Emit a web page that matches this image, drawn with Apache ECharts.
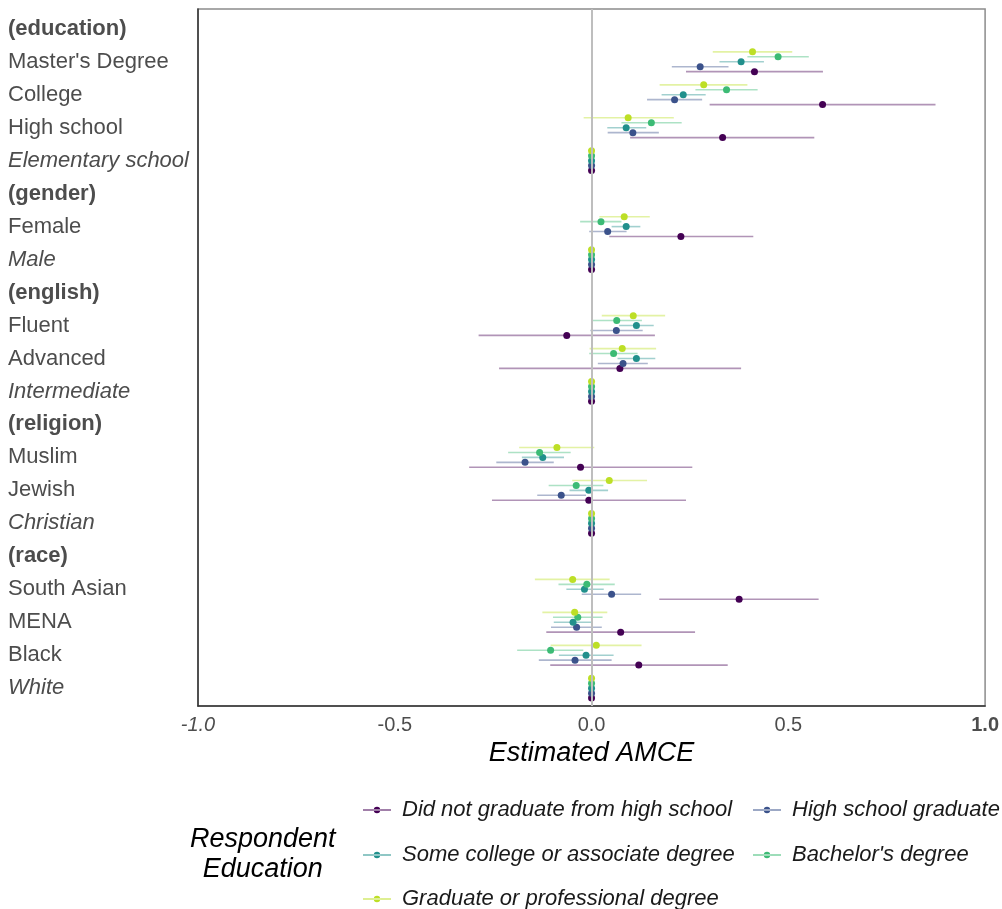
<!DOCTYPE html>
<html>
<head>
<meta charset="utf-8">
<script src="https://cdn.jsdelivr.net/npm/echarts@6/dist/echarts.min.js"></script>
<style>
  html, body { margin: 0; padding: 0; background: #ffffff; }
  #chart { width: 1002px; height: 909px; }
</style>
</head>
<body>
<div id="chart"></div>
<script>
// Attribute levels, top to bottom
const rows = ['(education)', "Master's Degree", 'College', 'High school', 'Elementary school',
  '(gender)', 'Female', 'Male',
  '(english)', 'Fluent', 'Advanced', 'Intermediate',
  '(religion)', 'Muslim', 'Jewish', 'Christian',
  '(race)', 'South Asian', 'MENA', 'Black', 'White'];
// h = attribute header, n = level, i = reference level
const rowKinds = ['h', 'n', 'n', 'n', 'i', 'h', 'n', 'i', 'h', 'n', 'n', 'i', 'h', 'n', 'n', 'i', 'h', 'n', 'n', 'n', 'i'];

const groups = ['Did not graduate from high school', 'High school graduate',
  'Some college or associate degree', "Bachelor's degree", 'Graduate or professional degree'];

// Estimated AMCE and 95% interval per respondent education group (null = header row)
const estNoHS = [null, 0.414, 0.587, 0.333, 0, null, 0.227, 0, null, -0.063, 0.072, 0, null, -0.028, -0.007, 0, null, 0.375, 0.074, 0.120, 0];
const loNoHS  = [null, 0.240, 0.300, 0.098, 0, null, 0.045, 0, null, -0.287, -0.235, 0, null, -0.311, -0.253, 0, null, 0.172, -0.115, -0.105, 0];
const hiNoHS  = [null, 0.588, 0.874, 0.566, 0, null, 0.411, 0, null, 0.161, 0.380, 0, null, 0.256, 0.240, 0, null, 0.577, 0.263, 0.346, 0];

const estHS = [null, 0.276, 0.211, 0.105, 0, null, 0.041, 0, null, 0.063, 0.080, 0, null, -0.169, -0.077, 0, null, 0.051, -0.038, -0.042, 0];
const loHS  = [null, 0.204, 0.141, 0.041, 0, null, -0.006, 0, null, -0.003, 0.016, 0, null, -0.242, -0.138, 0, null, -0.025, -0.103, -0.134, 0];
const hiHS  = [null, 0.348, 0.281, 0.171, 0, null, 0.089, 0, null, 0.130, 0.143, 0, null, -0.096, -0.014, 0, null, 0.126, 0.026, 0.051, 0];

const estSome = [null, 0.380, 0.233, 0.088, 0, null, 0.088, 0, null, 0.114, 0.114, 0, null, -0.124, -0.007, 0, null, -0.018, -0.047, -0.014, 0];
const loSome  = [null, 0.325, 0.178, 0.040, 0, null, 0.051, 0, null, 0.070, 0.066, 0, null, -0.177, -0.056, 0, null, -0.064, -0.096, -0.083, 0];
const hiSome  = [null, 0.438, 0.290, 0.139, 0, null, 0.124, 0, null, 0.158, 0.162, 0, null, -0.070, 0.042, 0, null, 0.031, 0.003, 0.056, 0];

const estBA = [null, 0.474, 0.343, 0.152, 0, null, 0.024, 0, null, 0.064, 0.056, 0, null, -0.132, -0.039, 0, null, -0.012, -0.035, -0.104, 0];
const loBA  = [null, 0.396, 0.264, 0.076, 0, null, -0.029, 0, null, -0.001, -0.006, 0, null, -0.212, -0.109, 0, null, -0.084, -0.098, -0.189, 0];
const hiBA  = [null, 0.552, 0.422, 0.229, 0, null, 0.076, 0, null, 0.128, 0.117, 0, null, -0.053, 0.030, 0, null, 0.059, 0.028, -0.021, 0];

const estGrad = [null, 0.409, 0.285, 0.093, 0, null, 0.083, 0, null, 0.106, 0.078, 0, null, -0.088, 0.045, 0, null, -0.048, -0.043, 0.012, 0];
const loGrad  = [null, 0.308, 0.173, -0.020, 0, null, 0.020, 0, null, 0.026, -0.005, 0, null, -0.184, -0.049, 0, null, -0.144, -0.125, -0.104, 0];
const hiGrad  = [null, 0.510, 0.396, 0.209, 0, null, 0.148, 0, null, 0.187, 0.164, 0, null, 0.007, 0.141, 0, null, 0.046, 0.040, 0.127, 0];

const xTicks = [-1.0, -0.5, 0.0, 0.5, 1.0];

// ---- styling ----
const FONT = 'Liberation Sans, Arial, Helvetica, sans-serif';
const colors = ['#440154', '#3B528B', '#21908C', '#3CBB75', '#BDDF26'];
const dodge = [0.3, 0.15, 0, -0.15, -0.3];           // vertical offset within a row
const xTickFaces = ['italic', 'plain', 'plain', 'plain', 'bold'];
// legend slots: [left, top] per group, filled row by row in two columns
const legendSlots = [[358, 794], [748, 794], [358, 839], [748, 839], [358, 883]];

const estimates = [estNoHS, estHS, estSome, estBA, estGrad];
const lowers = [loNoHS, loHS, loSome, loBA, loGrad];
const uppers = [hiNoHS, hiHS, hiSome, hiBA, hiGrad];

const series = [];
groups.forEach(function (name, g) {
  const ciData = [];
  const ptData = [];
  rows.forEach(function (r, i) {
    if (estimates[g][i] === null) return;
    const y = i + dodge[g];
    ciData.push([lowers[g][i], uppers[g][i], y]);
    ptData.push([estimates[g][i], y]);
  });
  const ci = {
    name: name,
    type: 'custom',
    z: 2,
    itemStyle: { color: colors[g] },
    encode: { x: [0, 1], y: 2 },
    data: ciData,
    renderItem: function (params, api) {
      const p1 = api.coord([api.value(0), api.value(2)]);
      const p2 = api.coord([api.value(1), api.value(2)]);
      return {
        type: 'line',
        shape: { x1: p1[0], y1: p1[1], x2: p2[0], y2: p2[1] },
        style: { stroke: colors[g], lineWidth: 1.6, opacity: 0.42 }
      };
    }
  };
  if (g === 0) {
    ci.markLine = {
      silent: true,
      symbol: ['none', 'none'],
      label: { show: false },
      lineStyle: { color: '#BEBEBE', width: 2, type: 'solid' },
      data: [{ xAxis: 0 }]
    };
  }
  series.push(ci);
  series.push({
    name: name,
    type: 'scatter',
    z: 3,
    symbol: 'circle',
    symbolSize: 7,
    itemStyle: { color: colors[g], opacity: 1 },
    data: ptData
  });
});

const legendIcon = 'path://M0,4.5L28,4.5L28,5.5L0,5.5Z M10.8,5A3.2,3.2,0,1,0,17.2,5A3.2,3.2,0,1,0,10.8,5Z';
const legends = groups.map(function (name, g) {
  return {
    orient: 'horizontal',
    left: legendSlots[g][0],
    top: legendSlots[g][1],
    itemWidth: 28,
    itemHeight: 10,
    icon: legendIcon,
    selectedMode: false,
    textStyle: { fontFamily: FONT, fontStyle: 'italic', fontSize: 22, color: '#1A1A1A', padding: [0, 0, 0, 6] },
    data: [name]
  };
});

const yRich = {
  h: { fontFamily: FONT, fontSize: 22, fontWeight: 'bold', color: '#4D4D4D' },
  n: { fontFamily: FONT, fontSize: 22, color: '#4D4D4D' },
  i: { fontFamily: FONT, fontSize: 22, fontStyle: 'italic', color: '#4D4D4D' }
};
const xRich = {
  italic: { fontFamily: FONT, fontSize: 20, fontStyle: 'italic', color: '#4D4D4D' },
  plain: { fontFamily: FONT, fontSize: 20, color: '#4D4D4D' },
  bold: { fontFamily: FONT, fontSize: 20, fontWeight: 'bold', color: '#4D4D4D' }
};

const option = {
  animation: false,
  backgroundColor: '#ffffff',
  grid: {
    left: 198, right: 13, top: 9, height: 697,
    show: true, borderColor: '#8C8C8C', borderWidth: 1.5, backgroundColor: 'transparent'
  },
  xAxis: {
    type: 'value',
    min: -1, max: 1, interval: 0.5,
    name: 'Estimated AMCE',
    nameLocation: 'middle',
    nameGap: 30,
    nameTextStyle: { fontFamily: FONT, fontSize: 27, fontStyle: 'italic', color: '#000000' },
    axisLine: { show: true, onZero: false, lineStyle: { color: '#333333', width: 1.5 } },
    axisTick: { show: false },
    splitLine: { show: false },
    axisLabel: {
      margin: 9,
      formatter: function (v) {
        const k = xTicks.findIndex(function (t) { return Math.abs(t - v) < 1e-9; });
        const face = k >= 0 ? xTickFaces[k] : 'plain';
        return '{' + face + '|' + v.toFixed(1) + '}';
      },
      rich: xRich
    }
  },
  yAxis: {
    type: 'value',
    inverse: true,
    min: -0.6, max: 20.54,
    axisLine: { show: true, onZero: false, lineStyle: { color: '#333333', width: 1.5 } },
    axisTick: { show: false },
    splitLine: { show: false },
    axisLabel: {
      customValues: rows.map(function (r, i) { return i; }),
      align: 'left',
      margin: 190,
      formatter: function (v) {
        const i = Math.round(v);
        if (i < 0 || i >= rows.length) return '';
        return '{' + rowKinds[i] + '|' + rows[i] + '}';
      },
      rich: yRich
    }
  },
  legend: legends,
  graphic: [{
    type: 'text',
    left: 190,
    top: 824,
    style: {
      text: 'Respondent\nEducation',
      font: 'italic 27px ' + FONT,
      fill: '#000000',
      textAlign: 'center',
      lineHeight: 30
    }
  }],
  series: series
};

const chart = echarts.init(document.getElementById('chart'), null, { renderer: 'canvas' });
chart.setOption(option);
</script>
</body>
</html>
